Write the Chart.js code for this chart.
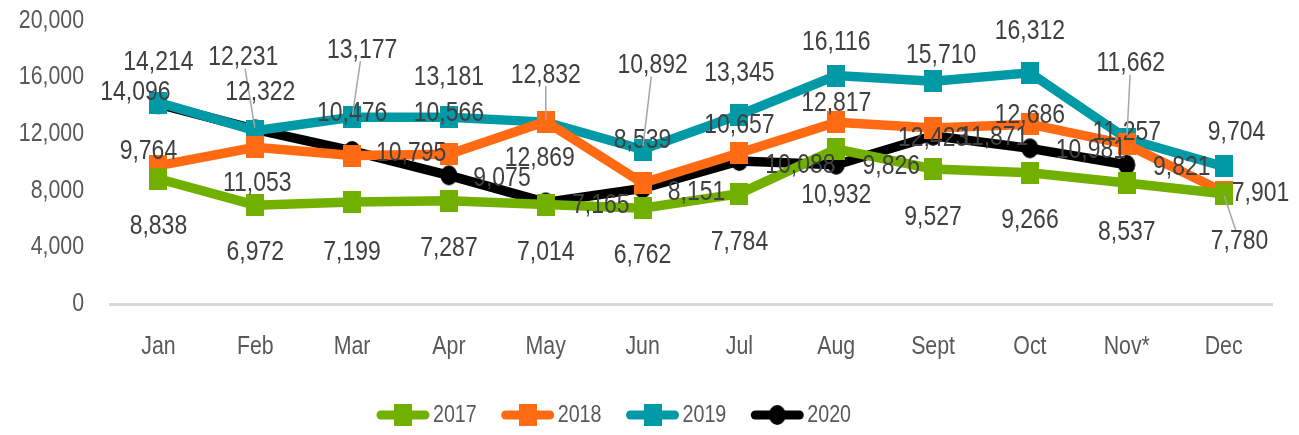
<!DOCTYPE html>
<html>
<head>
<meta charset="utf-8">
<script src="https://cdn.jsdelivr.net/npm/chart.js@4.4.1/dist/chart.umd.min.js"></script>
<style>
    html, body { margin: 0; padding: 0; background: #fff; }
    #wrap { width: 1299px; height: 435px; }
</style>
</head>
<body>
<div id="wrap"><canvas id="chart" width="1299" height="435"></canvas></div>
<script>
// Monthly values per year
const months = ["Jan", "Feb", "Mar", "Apr", "May", "Jun", "Jul", "Aug", "Sept", "Oct", "Nov*", "Dec"];
const yTicks = [0, 4000, 8000, 12000, 16000, 20000];

const values2017 = [8838, 6972, 7199, 7287, 7014, 6762, 7784, 10932, 9527, 9266, 8537, 7780];
const values2018 = [9764, 11053, 10476, 10566, 12869, 8539, 10657, 12817, 12423, 12686, 11257, 7901];
const values2019 = [14214, 12231, 13177, 13181, 12832, 10892, 13345, 16116, 15710, 16312, 11662, 9704];
const values2020 = [14096, 12322, 10795, 9075, 7165, 8151, 10088, 9826, 11871, 10981, 9821, null];

// Data label offsets from their point [dx, dy], hand placed like the original
const labelOffsets2017 = [[0, 48], [0, 47], [0, 50], [0, 48], [0, 48], [0, 47], [0, 49], [0, 46], [0, 48], [0, 48], [0, 49], [16, 48]];
const labelOffsets2018 = [[-10, -14], [2, 36], [0, -42], [0, -41], [-6, 37], [0, -43], [0, -28], [0, -19], [0, 10], [0, -9], [0, -12], [37, 1]];
const labelOffsets2019 = [[0, -40], [-12, -73], [10, -67], [0, -40], [0, -47], [10, -84], [0, -42], [0, -33], [8, -26], [0, -41], [4, -75], [13, -34]];
const labelOffsets2020 = [[-23, -12], [5, -37], [59, 2], [53, 3], [55, 3], [54, 4], [61, 4], [55, 2], [61, 2], [61, 2], [55, 2], [0, 0]];

// which labels get a leader line back to their point
const leaders2017 = [11];
const leaders2018 = [];
const leaders2019 = [1, 2, 4, 5, 10];
const leaders2020 = [];

const FONT = "'Liberation Sans', Arial, sans-serif";
const SX = 0.82; // horizontal squeeze, the original uses a narrow, tall face
const COLORS = {
    y2017: "#72B000",
    y2018: "#FF6A13",
    y2019: "#009AA6",
    y2020: "#000000",
};

/**
 * Draw a narrow text run centred vertically on y
 */
function narrowText(ctx, text, x, y, size, align, color) {
    ctx.save();
    ctx.font = size + "px " + FONT;
    ctx.fillStyle = color;
    ctx.textAlign = align;
    ctx.textBaseline = "middle";
    ctx.translate(x, y);
    ctx.scale(SX, 1);
    ctx.fillText(text, 0, 0);
    ctx.restore();
}

function narrowWidth(ctx, text, size) {
    ctx.save();
    ctx.font = size + "px " + FONT;
    const w = ctx.measureText(text).width * SX;
    ctx.restore();
    return w;
}

/**
 * Marker images: slightly tall squares and ovals, as in the original
 */
function markerImage(color, shape) {
    const c = document.createElement("canvas");
    c.width = 18;
    c.height = 22;
    const g = c.getContext("2d");
    g.fillStyle = color;
    if (shape === "circle") {
        g.beginPath();
        g.ellipse(9, 11, 8.5, 10, 0, 0, Math.PI * 2);
        g.fill();
    } else {
        g.fillRect(0, 0, 18, 22);
    }
    return c;
}

/**
 * Legend swatch: a short thick line with the marker in the middle
 */
function drawSwatch(ctx, x, y, color, marker) {
    ctx.save();
    ctx.strokeStyle = color;
    ctx.lineWidth = 9;
    ctx.lineCap = "round";
    ctx.beginPath();
    ctx.moveTo(x + 4, y);
    ctx.lineTo(x + 48, y);
    ctx.stroke();
    ctx.drawImage(marker, x + 26 - marker.width / 2, y - marker.height / 2);
    ctx.restore();
}

function makeSet(label, data, color, shape, offsets, leaders) {
    const marker = markerImage(color, shape);
    return {
        label: label,
        data: data,
        borderColor: color,
        backgroundColor: color,
        borderWidth: 9.5,
        pointStyle: marker,
        pointRadius: 11,
        pointHoverRadius: 11,
        tension: 0,
        spanGaps: false,
        labelOffsets: offsets,
        leaders: leaders,
        marker: marker,
    };
}

/**
 * Tick labels for both axes, taken from the chart's own scales
 */
const tickLabels = {
    id: "tickLabels",
    afterDraw(chart) {
        const ctx = chart.ctx;
        const x = chart.scales.x;
        const y = chart.scales.y;
        y.ticks.forEach((t) => {
            narrowText(ctx, t.value.toLocaleString("en-US"), y.right - 26,
                y.getPixelForValue(t.value), 26, "right", "#595959");
        });
        x.ticks.forEach((t, i) => {
            narrowText(ctx, chart.data.labels[i], x.getPixelForTick(i),
                x.top + 43, 26, "center", "#595959");
        });
    },
};

/**
 * Legend row under the chart
 */
const lineLegend = {
    id: "lineLegend",
    afterDraw(chart) {
        const ctx = chart.ctx;
        const size = 24;
        const gap = 25;
        const sets = chart.data.datasets;
        const widths = sets.map((ds) => 56 + narrowWidth(ctx, ds.label, size));
        const total = widths.reduce((a, b) => a + b, 0) + gap * (sets.length - 1);
        let x = 614 - total / 2;
        const y = 415;
        sets.forEach((ds, i) => {
            drawSwatch(ctx, x, y, ds.borderColor, ds.marker);
            narrowText(ctx, ds.label, x + 56, y, size, "left", "#595959");
            x += widths[i] + gap;
        });
    },
};

/**
 * Draws the value labels (and leader lines) next to every point
 */
const valueLabels = {
    id: "valueLabels",
    afterDatasetsDraw(chart) {
        const ctx = chart.ctx;
        chart.data.datasets.forEach((ds, di) => {
            const meta = chart.getDatasetMeta(di);
            meta.data.forEach((pt, i) => {
                const v = ds.data[i];
                if (v === null || v === undefined) return;
                const off = ds.labelOffsets[i];
                const text = v.toLocaleString("en-US");
                const cx = pt.x + off[0];
                const cy = pt.y + off[1];

                if (ds.leaders.includes(i)) {
                    const hw = narrowWidth(ctx, text, 28) / 2;
                    const hh = 11;
                    // run from the marker towards the label centre, stop where it enters the box
                    const dx = cx - pt.x;
                    const dy = cy - pt.y;
                    const tx = dx !== 0 ? (Math.abs(dx) - hw) / Math.abs(dx) : 0;
                    const ty = dy !== 0 ? (Math.abs(dy) - hh) / Math.abs(dy) : 0;
                    const k = Math.max(tx, ty, 0);
                    ctx.save();
                    ctx.strokeStyle = "#a6a6a6";
                    ctx.lineWidth = 1.5;
                    ctx.beginPath();
                    ctx.moveTo(pt.x + dx * 0.04, pt.y + dy * 0.04);
                    ctx.lineTo(pt.x + dx * k, pt.y + dy * k);
                    ctx.stroke();
                    ctx.restore();
                }

                narrowText(ctx, text, cx, cy, 28, "center", "#404040");
            });
        });
    },
};

const chart = new Chart(document.getElementById("chart"), {
    type: "line",
    data: {
        labels: months,
        datasets: [
            makeSet("2017", values2017, COLORS.y2017, "rect", labelOffsets2017, leaders2017),
            makeSet("2018", values2018, COLORS.y2018, "rect", labelOffsets2018, leaders2018),
            makeSet("2019", values2019, COLORS.y2019, "rect", labelOffsets2019, leaders2019),
            makeSet("2020", values2020, COLORS.y2020, "circle", labelOffsets2020, leaders2020),
        ],
    },
    options: {
        responsive: false,
        animation: false,
        events: [],
        layout: {
            padding: { left: 0, right: 27, top: 20, bottom: 71 },
        },
        scales: {
            x: {
                offset: true,
                grid: { display: false, drawTicks: false },
                border: { display: true, color: "#d9d9d9", width: 3 },
                ticks: { display: false, autoSkip: false },
                afterFit(scale) {
                    scale.height = 60;
                },
            },
            y: {
                min: 0,
                max: 20000,
                grid: { display: false, drawTicks: false },
                border: { display: false },
                afterBuildTicks(scale) {
                    scale.ticks = yTicks.map((v) => ({ value: v }));
                },
                ticks: { display: false },
                afterFit(scale) {
                    scale.width = 110;
                },
            },
        },
        plugins: {
            legend: { display: false },
            tooltip: { enabled: false },
        },
    },
    plugins: [valueLabels, tickLabels, lineLegend],
});
</script>
</body>
</html>
